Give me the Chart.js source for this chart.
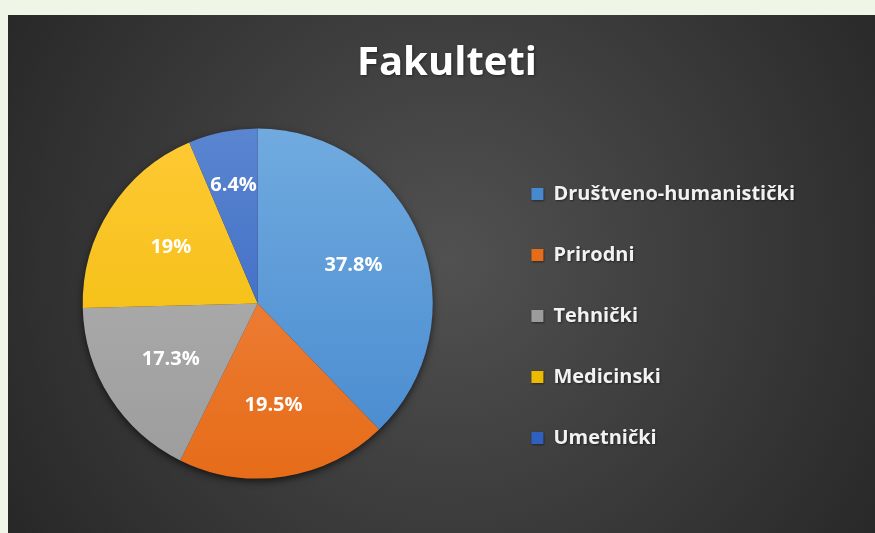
<!DOCTYPE html>
<html>
<head>
<meta charset="utf-8">
<script src="https://cdn.jsdelivr.net/npm/chart.js@4"></script>
<style>
  html, body { margin: 0; padding: 0; background: #eff6e8; }
  #wrap { width: 875px; height: 533px; }
</style>
</head>
<body>
<div id="wrap"><canvas id="pie" width="875" height="533"></canvas></div>
<script>
const labels = ["Društveno-humanistički", "Prirodni", "Tehnički", "Medicinski", "Umetnički"];
const values = [37.8, 19.5, 17.3, 19, 6.4];
const title = "Fakulteti";

// light / dark end of each slice gradient
const colors = [
    ["#70aadf", "#4689cf"],
    ["#f28a4c", "#e66c18"],
    ["#b4b4b4", "#9c9c9c"],
    ["#ffc935", "#ecba00"],
    ["#5a85d0", "#2f5fbf"]
];
const textColor = "#f2f2f2";

function sliceColor(c) {
    const pair = colors[c.dataIndex];
    const area = c.chart.chartArea;
    if (!area) return pair[0];
    const g = c.chart.ctx.createLinearGradient(0, 129, 0, 479);
    g.addColorStop(0, pair[0]);
    g.addColorStop(1, pair[1]);
    return g;
}

function textShadow(ctx) {
    ctx.shadowColor = "rgba(0,0,0,0.45)";
    ctx.shadowBlur = 2;
    ctx.shadowOffsetX = 1;
    ctx.shadowOffsetY = 1;
}

function noShadow(ctx) {
    ctx.shadowColor = "rgba(0,0,0,0)";
    ctx.shadowBlur = 0;
    ctx.shadowOffsetX = 0;
    ctx.shadowOffsetY = 0;
}

const backdrop = {
    id: "backdrop",
    beforeDraw(chart) {
        const ctx = chart.ctx;
        ctx.save();
        const g = ctx.createRadialGradient(450, 260, 0, 450, 260, 560);
        g.addColorStop(0, "#515151");
        g.addColorStop(1, "#242424");
        ctx.fillStyle = g;
        ctx.fillRect(8, 15, 867, 518);
        textShadow(ctx);
        ctx.shadowBlur = 3;
        ctx.font = "bold 40px 'Open Sans'";
        ctx.fillStyle = "#ffffff";
        ctx.textAlign = "center";
        ctx.textBaseline = "alphabetic";
        ctx.fillText(title, 447, 75);
        ctx.restore();
        // legend text gets the same soft shadow
        textShadow(ctx);
    },
    beforeDatasetsDraw(chart) {
        const ctx = chart.ctx;
        noShadow(ctx);
        const arc = chart.getDatasetMeta(0).data[0];
        if (!arc) return;
        const p = arc.getProps(["x", "y", "outerRadius"], true);
        ctx.save();
        ctx.shadowColor = "rgba(0,0,0,0.75)";
        ctx.shadowBlur = 9;
        ctx.shadowOffsetY = 3;
        ctx.fillStyle = "#333";
        ctx.beginPath();
        ctx.arc(p.x, p.y, p.outerRadius - 1, 0, Math.PI * 2);
        ctx.fill();
        ctx.restore();
    }
};

const sliceLabels = {
    id: "sliceLabels",
    afterDatasetsDraw(chart) {
        const ctx = chart.ctx;
        const meta = chart.getDatasetMeta(0);
        const total = values.reduce((a, b) => a + b, 0);
        ctx.save();
        ctx.font = "bold 20px 'Open Sans'";
        ctx.fillStyle = "#ffffff";
        ctx.textAlign = "center";
        ctx.textBaseline = "middle";
        meta.data.forEach((arc, i) => {
            const p = arc.getProps(["x", "y", "startAngle", "endAngle", "outerRadius"], true);
            const mid = (p.startAngle + p.endAngle) / 2;
            const k = values[i] / total < 0.1 ? 0.69 : 0.59;
            const x = p.x + Math.cos(mid) * p.outerRadius * k;
            const y = p.y + Math.sin(mid) * p.outerRadius * k;
            ctx.fillText(values[i] + "%", x, y);
        });
        ctx.restore();
    }
};

new Chart(document.getElementById("pie"), {
    type: "pie",
    data: {
        labels: labels,
        datasets: [{
            data: values,
            backgroundColor: sliceColor,
            borderWidth: 0,
            radius: 175
        }]
    },
    options: {
        responsive: false,
        animation: false,
        layout: {
            padding: { top: 118, bottom: 44, left: 25, right: 70 }
        },
        plugins: {
            title: { display: false },
            legend: {
                position: "right",
                align: "end",
                labels: {
                    color: textColor,
                    font: { family: "'Open Sans'", size: 20, weight: "bold" },
                    boxWidth: 12,
                    boxHeight: 12,
                    padding: 41,
                    generateLabels(chart) {
                        return labels.map((l, i) => ({
                            text: l,
                            fillStyle: colors[i][1],
                            strokeStyle: colors[i][1],
                            fontColor: textColor,
                            lineWidth: 0,
                            index: i
                        }));
                    }
                }
            },
            tooltip: { enabled: false }
        }
    },
    plugins: [backdrop, sliceLabels]
});
</script>
</body>
</html>
